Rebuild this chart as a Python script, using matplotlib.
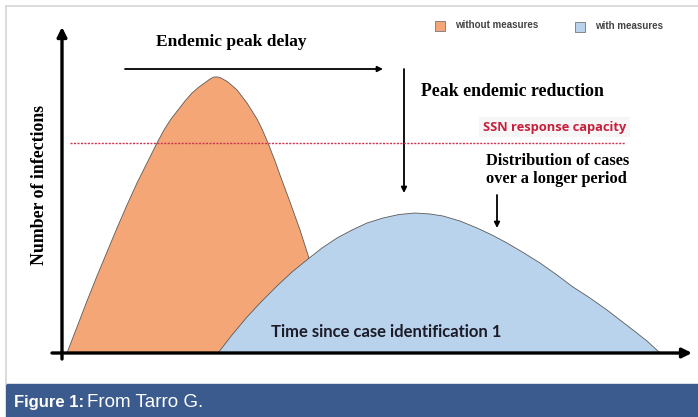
import matplotlib.pyplot as plt
from matplotlib.patches import Rectangle
from matplotlib.lines import Line2D

# curve outlines (time, infections)
orange_t = [5, 15, 25, 35, 45, 55, 65, 75, 85, 95, 102, 109, 116, 123, 130,
            137, 144, 148, 152, 156, 159, 166, 175, 185, 195, 200, 206, 213,
            218, 228, 238, 246, 254, 261, 268]
orange_y = [0, 26, 52, 77, 101, 125, 148, 170, 190, 210, 223, 234, 243, 252,
            260, 266, 271, 274, 276, 276, 275, 271, 263, 250, 234, 224, 210,
            192, 178, 151, 123, 98, 68, 36, 0]

blue_t = [156, 170, 185, 200, 215, 230, 246, 260, 275, 290, 305, 321, 337,
          353, 368, 381, 398, 415, 430, 445, 462, 478, 495, 511, 528, 545,
          558, 571, 585, 598]
blue_y = [0, 18, 36, 52, 67, 81, 94, 105, 115, 123, 130, 135, 138.5, 140,
          139, 137, 132, 125, 118, 110, 100, 90, 78, 66, 55, 43, 33, 23, 12, 0]

capacity = 210
capacity_span = (8, 563)

series_labels = ["without measures", "with measures"]
ORANGE = "#f4a677"
BLUE = "#b9d3ec"
SERIF = "Liberation Serif"

fig = plt.figure(figsize=(6.98, 4.17), dpi=100)
fig.set_facecolor("white")

# light frame and caption bar
fig.add_artist(Line2D([6 / 698, 1], [1 - 6 / 417, 1 - 6 / 417], color="#d6d6d6", lw=1.2))
fig.add_artist(Line2D([6 / 698, 6 / 698], [33 / 417, 1 - 6 / 417], color="#d6d6d6", lw=1.2))
fig.add_artist(Rectangle((6 / 698, 0), 1, 33 / 417, color="#3b5a8e", zorder=0))
fig.text(14 / 698, 10 / 417, "Figure 1:", color="white", fontsize=12,
         fontweight="bold", family="Liberation Sans", va="baseline", ha="left")
fig.text(87 / 698, 10 / 417, "From Tarro G.", color="white", fontsize=13.5,
         family="Liberation Sans", va="baseline", ha="left")

ax = fig.add_axes([62 / 698, 64 / 417, 628 / 698, 325 / 417])
ax.set_xlim(0, 628)
ax.set_ylim(0, 325)
ax.axis("off")

# the two epidemic curves
ax.fill(orange_t, orange_y, facecolor=ORANGE, edgecolor="#5a5a5a", lw=0.6, zorder=2)
ax.fill(blue_t, blue_y, facecolor=BLUE, edgecolor="#5a5a5a", lw=0.6, zorder=3)

# health service capacity
ax.hlines(capacity, *capacity_span, colors="#cc3350", linestyles=(0, (1.5, 1)),
          lw=1.0, zorder=4)
ax.text(421, 226, "SSN response capacity", color="#c8203c", fontsize=9.3,
        fontweight="bold", family="Open Sans", va="center", ha="left",
        bbox=dict(boxstyle="square,pad=0.3", facecolor="#f6f6f6", edgecolor="none"))

# axes with arrow heads
arrow_axis = dict(arrowstyle="-|>", lw=2.4, color="black", mutation_scale=14,
                  shrinkA=0, shrinkB=0)
ax.annotate("", xy=(0, 326), xytext=(0, -6), arrowprops=arrow_axis,
            annotation_clip=False)
ax.annotate("", xy=(630, 0), xytext=(-10, 0), arrowprops=arrow_axis,
            annotation_clip=False)

ax.text(-22, 168, "Number of infections", rotation=90, fontsize=12.8,
        fontweight="bold", family=SERIF, va="center", ha="center")
ax.text(324, 21, "Time since case identification 1", fontsize=12,
        fontweight="bold", family="Lato", color="#1c1c28", va="center",
        ha="center", zorder=5)

# annotations
arrow_thin = dict(arrowstyle="-|>", lw=1.3, color="black", mutation_scale=8,
                  shrinkA=0, shrinkB=0)
ax.text(169, 311, "Endemic peak delay", fontsize=12.5, fontweight="bold",
        family=SERIF, va="center", ha="center")
ax.annotate("", xy=(321, 284), xytext=(63, 284), arrowprops=arrow_thin)
ax.annotate("", xy=(342, 160), xytext=(342, 284), arrowprops=arrow_thin)
ax.text(359, 262, "Peak endemic reduction", fontsize=12.8, fontweight="bold",
        family=SERIF, va="center", ha="left")
ax.text(424, 183, "Distribution of cases\nover a longer period", fontsize=11.8,
        fontweight="bold", family=SERIF, va="center", ha="left", linespacing=1.1)
ax.annotate("", xy=(435, 125), xytext=(435, 158), arrowprops=arrow_thin)

# legend boxes
for (t, y), color, label in zip([(378, 327), (518, 326)], [ORANGE, BLUE], series_labels):
    ax.scatter([t], [y], marker="s", s=45, facecolor=color, edgecolor="#777777",
               lw=0.6, clip_on=False)
    ax.text(t + 15, y + 1, label, fontsize=7, fontweight="bold", color="#444444",
            family="Liberation Sans", va="center", ha="left")

fig.savefig("out.png", dpi=100)
